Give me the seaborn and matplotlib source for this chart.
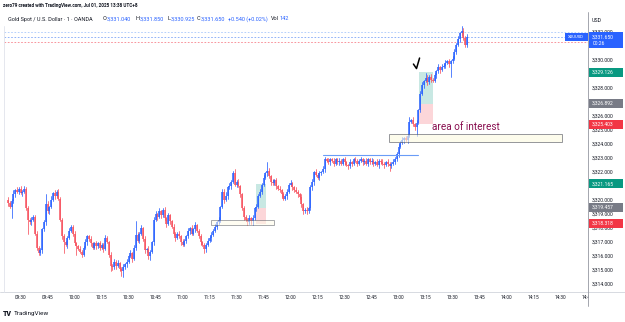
import numpy as np
import pandas as pd
import seaborn as sns
import matplotlib.pyplot as plt
import matplotlib.transforms as mtransforms
from matplotlib.patches import Rectangle
from matplotlib.lines import Line2D

# 1-minute XAUUSD candles, 09:23 .. 13:38 (minutes from 09:30 = index - 7)
first_open = 3320.0
closes = [
    3319.8, 3319.5, 3319.9, 3320.4, 3320.7, 3320.6, 3320.8, 3320.5, 3320.6, 3320.8,
    3319.4, 3318.6, 3318.4, 3318.6, 3318.8, 3317.6, 3316.6, 3316.2, 3316.4, 3317.9,
    3318.4, 3319.7, 3319.2, 3319.5, 3320.0, 3320.5, 3320.3, 3320.6, 3320.1, 3318.6,
    3317.4, 3317.0, 3316.8, 3317.3, 3317.8, 3318.1, 3317.6, 3316.9, 3316.7, 3316.5,
    3316.3, 3316.1, 3316.6, 3317.0, 3317.4, 3317.2, 3316.9, 3316.6, 3316.9, 3316.7,
    3316.9, 3316.6, 3316.8, 3316.5, 3317.3, 3317.0, 3316.1, 3315.3, 3315.2, 3315.6,
    3315.3, 3315.5, 3315.1, 3314.9, 3315.2, 3315.4, 3315.6, 3316.0, 3316.2, 3315.8,
    3316.6, 3317.5, 3317.1, 3317.6, 3318.0, 3317.2, 3316.4, 3316.5, 3316.0, 3316.3,
    3317.0, 3318.6, 3319.0, 3318.8, 3319.2, 3318.9, 3319.3, 3318.7, 3318.3, 3318.9,
    3318.5, 3318.1, 3317.6, 3317.3, 3317.6, 3317.4, 3317.0, 3316.8, 3317.1, 3317.4,
    3317.8, 3318.0, 3317.6, 3317.9, 3318.2, 3317.8, 3317.4, 3317.0, 3316.8, 3316.5,
    3316.8, 3317.1, 3317.3, 3317.5, 3317.8, 3318.1, 3318.4, 3318.6, 3319.5, 3320.6,
    3320.0, 3320.3, 3320.9, 3321.0, 3321.3, 3321.9, 3321.1, 3321.3, 3321.0, 3320.4,
    3319.4, 3318.8, 3318.6, 3318.4, 3318.7, 3318.5, 3318.7, 3319.4, 3319.5, 3320.3,
    3320.6, 3321.1, 3321.6, 3321.9, 3322.1, 3321.7, 3321.3, 3321.2, 3321.4, 3321.0,
    3320.8, 3320.7, 3320.4, 3320.1, 3320.3, 3320.6, 3321.1, 3321.2, 3320.9, 3320.7,
    3320.6, 3320.4, 3320.2, 3319.7, 3319.2, 3319.3, 3319.2, 3319.4, 3320.9, 3321.3,
    3322.0, 3321.8, 3321.6, 3321.9, 3322.0, 3322.2, 3322.9, 3322.8, 3322.7, 3322.9,
    3322.8, 3322.6, 3322.9, 3322.7, 3322.8, 3322.6, 3322.9, 3322.7, 3322.5, 3322.4,
    3322.7, 3322.6, 3322.9, 3322.8, 3322.6, 3322.8, 3322.9, 3322.7, 3322.8, 3322.6,
    3322.9, 3322.7, 3322.8, 3322.6, 3322.7, 3322.5, 3322.8, 3322.7, 3322.6, 3322.5,
    3322.7, 3322.6, 3322.4, 3322.6, 3322.7, 3322.9, 3323.3, 3323.8, 3324.1, 3324.3,
    3324.4, 3324.3, 3324.6, 3325.6, 3325.7, 3325.4, 3325.2, 3325.5, 3326.4, 3327.6,
    3328.2, 3328.5, 3328.7, 3328.4, 3328.8, 3328.6, 3328.5, 3328.9, 3329.2, 3329.5,
    3329.3, 3329.5, 3329.6, 3329.8, 3329.9, 3329.7, 3329.9, 3330.1, 3330.6, 3331.1,
    3331.5, 3331.9, 3332.1, 3331.6, 3331.04, 3331.65,
]
# wick lengths above / below the body, in tenths of a dollar
upper_wick = [
    2, 1, 2, 3, 1, 2, 1, 2, 1, 2,  1, 2, 1, 2, 1, 1, 2, 1, 2, 1,
    2, 7, 2, 1, 3, 1, 2, 1, 2, 1,  1, 2, 1, 1, 2, 1, 1, 2, 1, 1,
    2, 1, 1, 2, 1, 1, 2, 1, 1, 2,  1, 2, 1, 1, 2, 1, 1, 2, 1, 2,
    1, 2, 1, 1, 2, 1, 2, 1, 2, 1,  2, 10, 2, 1, 2, 1, 2, 1, 2, 1,
    1, 2, 2, 1, 2, 1, 1, 2, 1, 2,  1, 1, 2, 1, 1, 2, 1, 2, 1, 1,
    2, 1, 2, 1, 2, 1, 1, 2, 1, 1,  1, 2, 1, 2, 1, 2, 1, 2, 1, 2,
    2, 3, 1, 2, 1, 2, 3, 1, 2, 1,  1, 2, 1, 1, 2, 1, 2, 1, 2, 1,
    2, 1, 2, 1, 6, 2, 1, 2, 1, 2,  1, 2, 1, 2, 1, 2, 1, 2, 1, 1,
    2, 1, 1, 2, 1, 1, 2, 1, 2, 2,  1, 2, 1, 2, 1, 2, 2, 1, 2, 1,
    1, 2, 1, 1, 2, 1, 1, 2, 1, 1,  2, 1, 1, 2, 1, 1, 2, 1, 1, 2,
    1, 1, 2, 1, 1, 2, 1, 1, 2, 1,  1, 2, 1, 1, 2, 2, 1, 2, 1, 2,
    1, 2, 1, 3, 1, 2, 1, 2, 1, 2,  2, 1, 4, 2, 1, 2, 1, 2, 1, 2,
    1, 2, 1, 2, 1, 2, 1, 2, 2, 1,  2, 1, 3, 2, 1, 2,
]
lower_wick = [
    2, 1, 8, 1, 2, 1, 2, 1, 2, 1,  1, 10, 1, 2, 1, 1, 2, 1, 1, 2,
    1, 2, 1, 2, 1, 1, 2, 1, 1, 1,  2, 8, 1, 2, 1, 1, 2, 1, 6, 1,
    1, 2, 1, 1, 2, 1, 2, 1, 1, 2,  1, 2, 1, 2, 1, 1, 2, 4, 2, 1,
    2, 1, 2, 3, 4, 1, 2, 1, 1, 2,  1, 2, 1, 2, 1, 1, 2, 1, 2, 3,
    1, 2, 1, 2, 1, 2, 1, 1, 2, 1,  2, 1, 1, 2, 1, 1, 2, 1, 1, 2,
    1, 2, 1, 1, 2, 1, 1, 2, 1, 3,  2, 1, 1, 2, 1, 1, 2, 1, 2, 1,
    2, 1, 2, 1, 2, 1, 1, 2, 1, 2,  1, 2, 1, 2, 1, 2, 3, 1, 2, 1,
    1, 2, 1, 1, 2, 1, 2, 1, 1, 2,  1, 1, 2, 1, 1, 2, 1, 1, 2, 1,
    1, 2, 1, 2, 2, 1, 2, 1, 1, 2,  2, 1, 1, 2, 1, 1, 2, 1, 1, 2,
    1, 2, 1, 1, 2, 1, 1, 2, 1, 2,  1, 2, 1, 1, 2, 1, 1, 2, 1, 1,
    2, 1, 1, 2, 1, 1, 2, 1, 1, 2,  1, 2, 3, 1, 1, 1, 1, 2, 1, 1,
    2, 1, 2, 1, 1, 1, 2, 6, 1, 1,  1, 2, 1, 2, 1, 2, 1, 1, 2, 1,
    2, 1, 1, 2, 1, 2, 9, 1, 1, 2,  1, 2, 1, 2, 1, 1,
]
start_offset = -7  # first candle at 09:23

# drawings (times in minutes after 09:30, prices in USD)
pos_a_time = [130.8, 136.4]
pos_a_levels = [3318.318, 3319.457, 3321.165]   # stop, entry, target
pos_b_time = [221.4, 229.2]
pos_b_levels = [3325.403, 3326.892, 3329.126]
zone_low_time = [105.8, 140.8]
zone_low_levels = [3318.21, 3318.57]
interest_time = [204.7, 300.8]
interest_levels = [3324.14, 3324.71]
resist_time = [168.1, 220.8]
resist_level = 3323.21
last_price = 3331.65
dashed_levels = [3332.0, 3331.65, 3331.29]
# price labels that sit under a badge are not shown
price_ticks = [3314, 3315, 3316, 3317, 3318, 3319, 3320, 3322, 3323, 3324, 3325,
               3326, 3328, 3330, 3332]
time_ticks = list(range(0, 316, 15))

UP, DOWN = "#2962FF", "#F7525F"

sns.set_theme(style="white")
plt.rcParams['font.family'] = ['Roboto', 'DejaVu Sans']

n = len(closes)
c = np.array(closes)
o = np.r_[first_open, c[:-1]]
hi = np.maximum(o, c) + np.array(upper_wick) / 10
lo = np.minimum(o, c) - np.array(lower_wick) / 10
t = np.arange(n) + start_offset
direction = np.where(c >= o, "up", "down")
body_lo = np.minimum(o, c)
body_hi = np.maximum(np.maximum(o, c), body_lo + 0.06)

wicks = pd.DataFrame({
    "t": np.repeat(t, 2), "price": np.column_stack([lo, hi]).ravel(),
    "candle": np.repeat(np.arange(n), 2), "dir": np.repeat(direction, 2)})
bodies = pd.DataFrame({
    "t": np.repeat(t, 2), "price": np.column_stack([body_lo, body_hi]).ravel(),
    "candle": np.repeat(np.arange(n), 2), "dir": np.repeat(direction, 2)})

W, H = 625, 322
fig = plt.figure(figsize=(W / 100, H / 100), dpi=100)
fig.patch.set_facecolor("white")


def fx(x):
    return x / W


def fy(y):
    return 1 - y / H


ax = fig.add_axes([fx(4), fy(292), (588 - 4) / W, (292 - 24) / H])
ax.set_facecolor("white")

pal = {"up": UP, "down": DOWN}
sns.lineplot(data=wicks, x="t", y="price", units="candle", estimator=None, hue="dir",
             palette=pal, linewidth=0.55, legend=False, sort=False, ax=ax, zorder=3)
sns.lineplot(data=bodies, x="t", y="price", units="candle", estimator=None, hue="dir",
             palette=pal, linewidth=1.1, legend=False, sort=False, ax=ax, zorder=4,
             solid_capstyle="butt")

# position tools
for times, lv in [(pos_a_time, pos_a_levels), (pos_b_time, pos_b_levels)]:
    w = times[1] - times[0]
    ax.add_patch(Rectangle((times[0], lv[1]), w, lv[2] - lv[1], facecolor="#089981",
                           alpha=0.22, lw=0, zorder=2))
    ax.add_patch(Rectangle((times[0], lv[0]), w, lv[1] - lv[0], facecolor="#F23645",
                           alpha=0.2, lw=0, zorder=2))

# boxes
ax.add_patch(Rectangle((zone_low_time[0], zone_low_levels[0]), zone_low_time[1] - zone_low_time[0],
                       zone_low_levels[1] - zone_low_levels[0], facecolor="#fffde7", alpha=0.5,
                       edgecolor="#50535e", lw=0.7, zorder=5))
ax.add_patch(Rectangle((interest_time[0], interest_levels[0]), interest_time[1] - interest_time[0],
                       interest_levels[1] - interest_levels[0], facecolor="#fdfbe0", alpha=0.6,
                       edgecolor="#50535e", lw=0.7, zorder=5))
ax.plot(resist_time, [resist_level, resist_level], color="#6a9cf7", lw=0.8, zorder=5)
ax.text(228.6, 3325.21, "area of interest", color="#880e4f", fontsize=7.2, va="center",
        ha="left", zorder=6)
# hand-drawn tick mark
ax.plot([218.3, 220.0, 221.7], [3329.71, 3329.39, 3330.14], color="black", lw=1.1,
        solid_capstyle="round", solid_joinstyle="round", zorder=6)

for lvl, col in zip(dashed_levels, ["#a9c8fb", "#7fa6f7", "#f7828c"]):
    ax.axhline(lvl, color=col, lw=0.6, ls=(0, (2, 2)), zorder=1)

ax.set_xlim((4 - 20.5) / 1.8, (588 - 20.5) / 1.8)
ax.set_ylim(3332 - 260 / 14, 3332 + 8 / 14)
ax.set_xlabel("")
ax.set_ylabel("")
for s in ax.spines.values():
    s.set_visible(False)

ax.yaxis.tick_right()
ax.set_yticks(price_ticks)
ax.set_yticklabels([f"{v:,.3f}" for v in price_ticks])
ax.tick_params(axis="y", length=0, pad=3, labelsize=3.6, labelcolor="#131722")
ax.set_xticks(time_ticks)
ax.set_xticklabels([f"{9 + (30 + m) // 60:02d}:{(30 + m) % 60:02d}" for m in time_ticks])
ax.tick_params(axis="x", length=0, pad=2.2, labelsize=3.4, labelcolor="#131722")

trans = mtransforms.blended_transform_factory(ax.transAxes, ax.transData)
pxu = 1 / 14  # price per pixel


def ax_x(px):
    return (px - 4) / 584


def badge(price, text, color, top=4.5, bottom=4.5):
    ax.add_patch(Rectangle((ax_x(589), price - bottom * pxu), ax_x(623) - ax_x(589),
                           (top + bottom) * pxu, facecolor=color, lw=0, transform=trans,
                           clip_on=False, zorder=8))
    ax.text(ax_x(591.5), price, text, color="white", fontsize=3.6, va="center", ha="left",
            transform=trans, clip_on=False, zorder=9)


badge(pos_b_levels[2], f"{pos_b_levels[2]:,.3f}", "#089981")
badge(pos_b_levels[1], f"{pos_b_levels[1]:,.3f}", "#787B86")
badge(pos_b_levels[0], f"{pos_b_levels[0]:,.3f}", "#F23645")
badge(pos_a_levels[2], f"{pos_a_levels[2]:,.3f}", "#089981")
badge(pos_a_levels[1], f"{pos_a_levels[1]:,.3f}", "#787B86")
badge(pos_a_levels[0], f"{pos_a_levels[0]:,.3f}", "#F23645")
badge(last_price, f"{last_price:,.3f}", "#2962FF", top=4.5, bottom=11.5)
ax.text(ax_x(592.5), last_price - 7 * pxu, "00:26", color="white", fontsize=3.6, va="center",
        ha="left", transform=trans, clip_on=False, zorder=9)
# symbol label on the last-price line
ax.add_patch(Rectangle((ax_x(565), last_price - 4 * pxu), ax_x(587.5) - ax_x(565), 8 * pxu,
                       facecolor="#2962FF", lw=0, transform=trans, clip_on=False, zorder=8))
ax.text(ax_x(576.2), last_price, "XAUUSD", color="white", fontsize=3.1, va="center",
        ha="center", transform=trans, clip_on=False, zorder=9)

# frame lines and cover for the cut-off last time label
fig.add_artist(Rectangle((fx(588.5), fy(306)), fx(625) - fx(588.5), fy(293) - fy(306),
                         transform=fig.transFigure, facecolor="white", lw=0, zorder=2))
fig.add_artist(Line2D([fx(0), fx(625)], [fy(292), fy(292)], transform=fig.transFigure,
                      color="#d1d4dc", lw=0.6, zorder=3))
fig.add_artist(Line2D([fx(588), fx(588)], [fy(12), fy(306)], transform=fig.transFigure,
                      color="#9598a1", lw=0.6, zorder=3))
fig.add_artist(Line2D([fx(4), fx(4)], [fy(26), fy(292)], transform=fig.transFigure,
                      color="#e0e3eb", lw=0.6, zorder=3))

# header texts
fig.text(fx(3), fy(6), "zero79 created with TradingView.com, Jul 01, 2025 13:38 UTC+8",
         fontsize=3.3, color="#131722", va="center", ha="left", fontweight="bold")
y2 = fy(19)
fig.text(fx(8), y2, "Gold Spot / U.S. Dollar · 1 · OANDA", fontsize=4.0, color="#131722",
         va="center")
for x0, lab, val in [(103, "O", "3,331.040"), (136, "H", "3,331.850"),
                     (167, "L", "3,330.925"), (197, "C", "3,331.650")]:
    fig.text(fx(x0), y2, lab, fontsize=4.0, color="#131722", va="center")
    fig.text(fx(x0 + 3.8), y2, val, fontsize=4.0, color="#2962FF", va="center")
fig.text(fx(228), y2, "+0.540 (+0.02%)", fontsize=4.0, color="#2962FF", va="center")
fig.text(fx(271), y2, "Vol", fontsize=4.0, color="#131722", va="center")
fig.text(fx(279), y2, "142", fontsize=4.0, color="#2962FF", va="center")
fig.text(fx(592), fy(20.5), "USD", fontsize=3.8, color="#131722", va="center")

# footer logo
fig.text(fx(3), fy(313.5), "TV", fontsize=5, color="#131722", va="center", fontweight="black")
fig.text(fx(14), fy(313.5), "TradingView", fontsize=4.6, color="#131722", va="center")

fig.savefig("out.png", dpi=100, facecolor="white")
